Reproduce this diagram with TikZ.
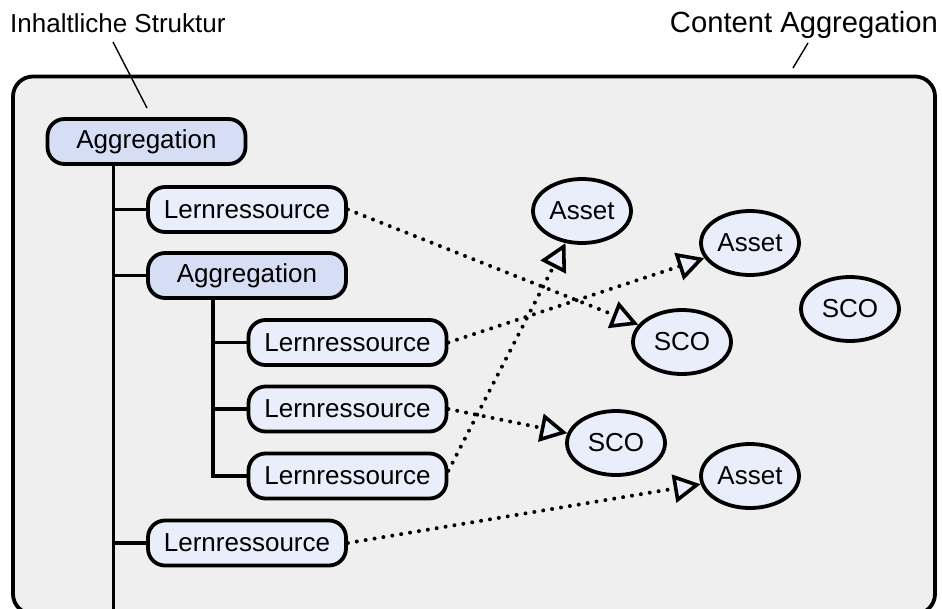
\documentclass[tikz,border=0pt]{standalone}
\usepackage{fontspec}
\setmainfont{Liberation Sans}
\usetikzlibrary{shapes.geometric,arrows.meta}
\definecolor{panel}{RGB}{239,239,239}
\definecolor{aggfill}{RGB}{214,222,246}
\definecolor{leaffill}{RGB}{233,238,250}
\begin{document}
\begin{tikzpicture}[x=1pt,y=-1pt,
  lbl/.style={font=\fontsize{26pt}{30pt}\selectfont},
  box/.style={lbl, draw, line width=3.8pt, rounded corners=17pt, minimum width=198pt, minimum height=45pt, inner sep=0pt},
  aggbox/.style={box, fill=aggfill},
  resbox/.style={box, fill=leaffill},
  item/.style={lbl, ellipse, draw, line width=3.8pt, fill=leaffill, minimum width=98pt, minimum height=64pt, inner sep=0pt},
  tree/.style={line width=3.6pt},
  ref/.style={line width=4pt, line cap=round, dash pattern=on 0pt off 9pt,
    -{Triangle[length=27pt,width=28pt,fill=leaffill,line width=3.6pt]}},
  leader/.style={line width=1.4pt}]
\useasboundingbox (0,0) rectangle (942,608);
\begin{scope}
\clip (0,0) rectangle (942,608);
% content aggregation panel (its lower edge runs past the page)
\draw[line width=3.8pt, fill=panel, rounded corners=20pt] (13,76.5) rectangle (935,614);

% labels with their leader lines
\node[lbl, anchor=base west, inner sep=0pt] (inh) at (10,32) {Inhaltliche Struktur};
\node[font=\fontsize{29.2pt}{34pt}\selectfont, anchor=base east, inner sep=0pt] (cag) at (938,32) {Content Aggregation};
\coordinate (inhA) at (113,42);
\coordinate (inhB) at (147,108);
\coordinate (cagA) at (808,43);
\coordinate (cagB) at (793,68);
\draw[leader] (inhA) -- (inhB);
\draw[leader] (cagA) -- (cagB);

% content structure tree
\node[aggbox] (agg)  at (146.5,141.5) {Aggregation};
\node[resbox] (r1)   at (247,209.5)   {Lernressource};
\node[aggbox] (agg2) at (247,275.5)   {Aggregation};
\node[resbox] (r2)   at (347.5,342.5) {Lernressource};
\node[resbox] (r3)   at (347.5,409)   {Lernressource};
\node[resbox] (r4)   at (347.5,476)   {Lernressource};
\node[resbox] (r5)   at (247,543)     {Lernressource};

\coordinate (trunk) at (113.5,620);
\coordinate (sub) at (213,0);
\draw[tree] (agg.south -| trunk) -- (trunk);
\draw[tree] (r1.west -| trunk) -- (r1.west);
\draw[tree] (agg2.west -| trunk) -- (agg2.west);
\draw[tree] (r5.west -| trunk) -- (r5.west);
\draw[tree] (agg2.south -| sub) -- (r4.west -| sub) -- (r4.west);
\draw[tree] (r2.west -| sub) -- (r2.west);
\draw[tree] (r3.west -| sub) -- (r3.west);

% assets and SCOs
\node[item] (a1) at (582,211) {Asset};
\node[item] (a2) at (750,243) {Asset};
\node[item] (s1) at (682,342) {SCO};
\node[item] (s4) at (850,309) {SCO};
\node[item] (s2) at (616,443) {SCO};
\node[item] (a3) at (750,476) {Asset};

% references from learning resources
\draw[ref] (r1.east) -- (s1);
\draw[ref] (r2.east) -- (a2);
\draw[ref] (r3.east) -- (s2);
\draw[ref] (r4.3) -- (a1);
\draw[ref] (r5.east) -- (a3);
\end{scope}
\end{tikzpicture}
\end{document}
